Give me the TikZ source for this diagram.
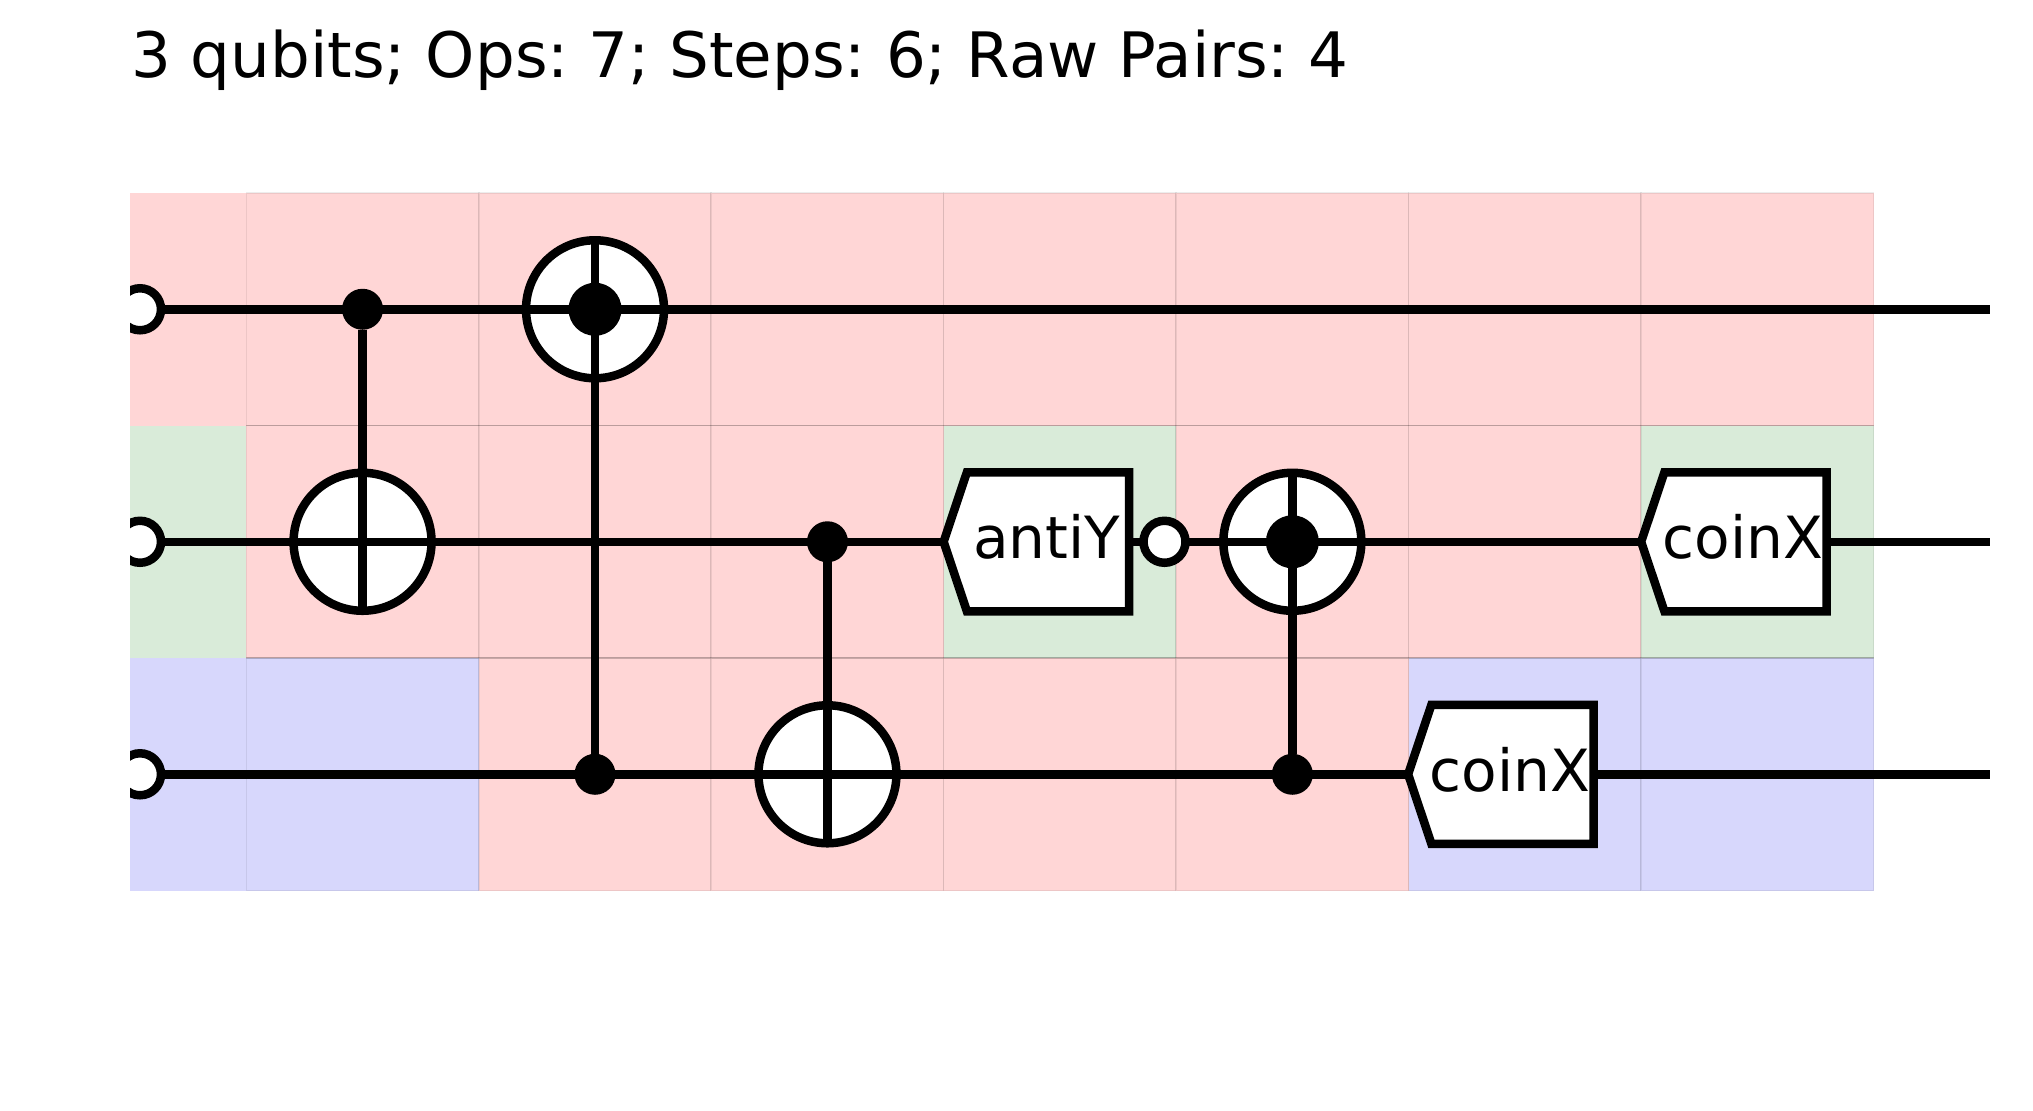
\documentclass[tikz,border=0pt]{standalone}
\usepackage{fontspec}
\setmainfont{DejaVu Sans}
\frenchspacing
\usetikzlibrary{shapes,arrows,positioning}
\definecolor{pinkcell}{RGB}{255,214,214}
\definecolor{greencell}{RGB}{217,235,217}
\definecolor{bluecell}{RGB}{215,215,252}
\tikzstyle{cell}=[rectangle,draw=black,draw opacity=0.07,line width=0.015cm,inner sep=0pt,outer sep=0pt,minimum width=2.3245cm,minimum height=2.325cm]
\tikzstyle{edgecell}=[rectangle,inner sep=0pt,outer sep=0pt,minimum width=1.163cm,minimum height=2.325cm]
\tikzstyle{rowline}=[draw=black,draw opacity=0.15,line width=0.015cm]
\tikzstyle{wire}=[line width=0.085cm]
\tikzstyle{inport}=[circle,draw,fill=white,line width=0.085cm,inner sep=0pt,outer sep=0pt,minimum size=0.42cm]
\tikzstyle{dotctrl}=[circle,fill=black,inner sep=0pt,outer sep=0pt,minimum size=0.41cm]
\tikzstyle{bigctrl}=[circle,fill=black,inner sep=0pt,outer sep=0pt,minimum size=0.53cm]
\tikzstyle{target}=[circle,draw,fill=white,line width=0.085cm,inner sep=0pt,outer sep=0pt,minimum size=1.38cm]
\tikzstyle{gatebox}=[signal,signal to=west,signal pointer angle=143,draw,fill=white,line width=0.085cm,inner sep=0pt,outer sep=0pt,minimum width=1.855cm,minimum height=1.39cm,font=\fontsize{16.55pt}{18pt}\selectfont,text height=0.46cm,text depth=0.116cm]
\newcommand{\gatetext}[2]{\makebox[1.5cm][c]{#2\kern#1}}

\begin{document}
\begin{tikzpicture}[x=1cm,y=-1cm]
\useasboundingbox (0,0) rectangle (20.33,11.10);
\node[anchor=base west,inner sep=0pt,font=\fontsize{17.83pt}{20pt}\selectfont] (title) at (1.305,0.775) {3 qubits; Ops: 7; Steps: 6; Raw Pairs: 4};
% background cells
\node[edgecell,fill=pinkcell] (c0r0) at (1.8815,3.0925) {};
\node[edgecell,fill=greencell] (c0r1) at (1.8815,5.4175) {};
\node[edgecell,fill=bluecell] (c0r2) at (1.8815,7.7425) {};
\foreach \rowcells [count=\r from 0] in {
  {pinkcell,pinkcell,pinkcell,pinkcell,pinkcell,pinkcell,pinkcell},
  {pinkcell,pinkcell,pinkcell,greencell,pinkcell,pinkcell,greencell},
  {bluecell,pinkcell,pinkcell,pinkcell,pinkcell,bluecell,bluecell}} {
  \foreach \cellfill [count=\c from 1] in \rowcells {
    \node[cell,fill=\cellfill] (c\c r\r) at ({3.6255+(\c-1)*2.3245},{3.0925+\r*2.325}) {};
  }
}
\draw[rowline] (c1r0.south west) -- (c7r0.south east);
\draw[rowline] (c1r1.south west) -- (c7r1.south east);
% inputs are cut at the left edge
\begin{scope}
\clip (1.30,0) rectangle (20.33,11.10);
\foreach \r in {0,1,2} {
  \node[inport] (in\r) at ({1.40},{3.0925+\r*2.325}) {};
}
\end{scope}
% targets go under the wires
\node[target] (targA) at (c1r1) {};
\node[target] (targB) at (c2r0) {};
\node[target] (targC) at (c3r2) {};
\node[target] (targD) at (c5r1) {};
\foreach \r in {0,1,2} {
  \coordinate (out\r) at ({19.90},{3.0925+\r*2.325});
  \draw[wire] (in\r) -- (out\r);
}
\node[dotctrl] (ctrlA) at (c1r0) {};
\node[dotctrl] (ctrlB) at (c2r2) {};
\node[dotctrl] (ctrlC) at (c3r1) {};
\node[dotctrl] (ctrlD) at (c5r2) {};
\node[bigctrl] (bigB) at (c2r0) {};
\node[bigctrl] (bigD) at (c5r1) {};
\draw[wire] (ctrlA) -- (targA.south);
\draw[wire] (targB.north) -- (ctrlB);
\draw[wire] (ctrlC) -- (targC.south);
\draw[wire] (targD.north) -- (ctrlD);
% named gates
\node[gatebox] (gateY) at (10.48,5.4175) {\gatetext{0.03cm}{antiY}};
\node[inport] (negY) at (11.645,5.4175) {};
\node[gatebox] (gateXa) at (17.455,5.4175) {\gatetext{0.05cm}{coinX}};
\node[gatebox] (gateXb) at (15.125,7.7425) {\gatetext{0.05cm}{coinX}};
\end{tikzpicture}
\end{document}
